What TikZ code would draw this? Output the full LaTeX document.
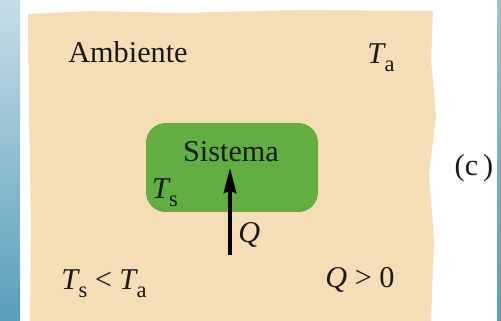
\documentclass[tikz,border=0pt]{standalone}
\usepackage{fontspec}
\setmainfont{Liberation Serif}
\usetikzlibrary{arrows.meta}
\definecolor{slide}{RGB}{88,158,186}
\definecolor{paper}{RGB}{245,221,182}
\definecolor{sysgreen}{RGB}{98,174,66}
\newcommand{\tsym}[2]{\textit{#1}\kern-0.05em\raisebox{-0.6ex}{\fontsize{16}{17}\selectfont #2}}
\tikzset{
  lbl/.style={font=\fontsize{21.5}{23}\selectfont, text=black!90, inner sep=0pt},
  heat/.style={line width=2.3pt, -{Stealth[length=18pt, width=9pt, inset=2pt]}}
}
\begin{document}
\begin{tikzpicture}[x=0.025cm,y=-0.025cm]
\useasboundingbox (0,0) rectangle (501,321);
\fill[white] (0,0) rectangle (501,321);
\shade[top color=slide!35, bottom color=slide] (0,0) rectangle (20,321);
\shade[top color=slide!60, bottom color=slide] (497,0) rectangle (501,321);

\fill[paper] (28,14) -- (90,11) -- (180,13) -- (300,10) -- (433,11) -- (431,60) -- (436,115) -- (429,175) -- (434,240) -- (431,321) -- (30,321) -- (31,220) -- (29,120) -- cycle;
\fill[sysgreen, rounded corners=14] (146,123) rectangle (318,212);

\node[lbl] (amb) at (128,52) {Ambiente};
\node[lbl] (ta) at (381,58) {\tsym{T}{a}};
\node[lbl] (sis) at (231,152) {Sistema};
\node[lbl] (ts) at (165,193) {\tsym{T}{s}};
\coordinate (qtail) at (230,255);
\coordinate (qhead) at (230,168);
\draw[heat] (qtail) -- (qhead);
\node[lbl, anchor=west] (q) at (238,235) {\textit{Q}};
\node[lbl] (cmp) at (104,284) {\tsym{T}{s} < \tsym{T}{a}};
\node[lbl] (qpos) at (360,280) {\textit{Q} > 0};
\node[lbl] (tag) at (474,168) {(c\,)};
\end{tikzpicture}
\end{document}
